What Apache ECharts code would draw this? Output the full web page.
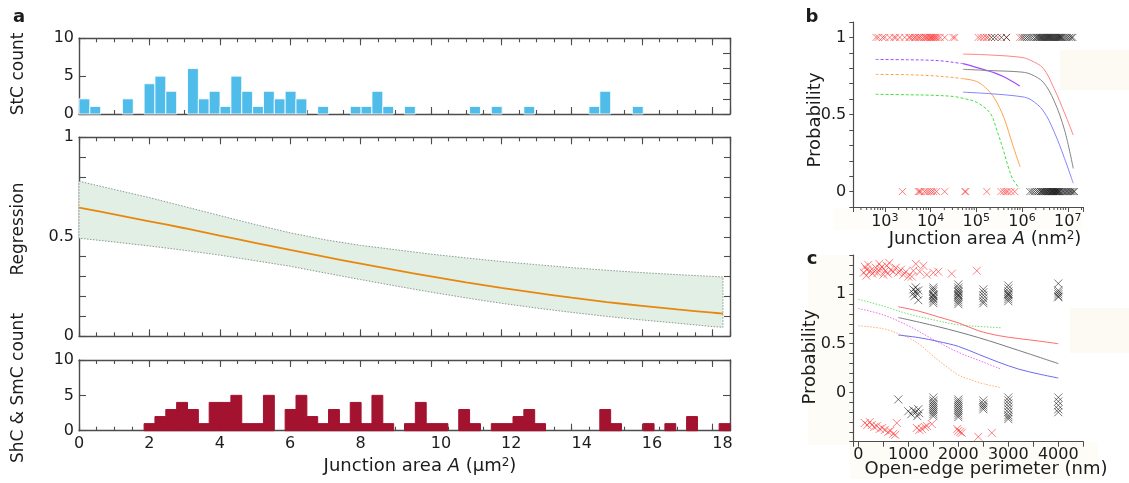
<!DOCTYPE html>
<html><head><meta charset="utf-8">
<script src="https://cdn.jsdelivr.net/npm/echarts@6/dist/echarts.min.js"></script>
<style>html,body{margin:0;padding:0;background:#fff}#chart{width:1129px;height:483px}</style>
</head><body><div id="chart"></div>
<script>
// ---------------- Panel a data ----------------
const AREA_MAX = 18.5;               // µm², histogram range (60 equal bins)
const stcCounts = [2,1,0,0,2,0,4,5,3,0, 6,2,3,1,5,3,1,3,2,3, 2,0,1,0,0,1,1,3,1,0, 1,0,0,0,0,0,1,0,1,0, 0,1,0,0,0,0,0,1,3,0, 0,1,0,0,0,0,0,0,0,0];
const shcCounts = [0,0,0,0,0,0,1,2,3,4, 3,1,4,4,5,1,1,5,0,3, 5,2,1,3,1,4,1,5,1,0, 1,4,1,1,0,3,1,0,1,1, 2,3,1,0,0,0,0,0,3,1, 0,0,1,0,1,0,2,0,0,1];
const regX     = [0,1,2,3,4,5,6,7,8,9,10,11,12,13,14,15,16,17,18,18.3];
const regMean  = [0.647,0.613,0.578,0.543,0.506,0.470,0.434,0.399,0.365,0.332,0.301,0.271,0.243,0.218,0.194,0.172,0.153,0.135,0.119,0.114];
const regUpper = [0.779,0.738,0.697,0.652,0.607,0.562,0.520,0.485,0.457,0.435,0.413,0.394,0.376,0.360,0.345,0.332,0.320,0.310,0.301,0.298];
const regLower = [0.493,0.474,0.454,0.432,0.408,0.380,0.352,0.318,0.285,0.253,0.222,0.193,0.166,0.142,0.120,0.100,0.082,0.066,0.049,0.045];
const aXTickLabels = [0,2,4,6,8,10,12,14,16,18];

// ---------------- Panel b data (junction area in nm²) ----------------
const bRedTop = [640,715,891,1000,1285,1585,1738,2123,2729,3388,3548,3981,4467,4786,5333,5754,6310,7079,7586,8128,8710,9333,10000,10470,11220,11750,12590,13180,14450,16220,20420,30900,33880,109600,125900,144500,166000,182000,295100,457100,891000];
const bBlackTop = [213800,251200,354800,457100,1000000,1120000,1260000,1410000,1580000,1780000,2000000,2120000,2240000,2380000,2510000,2630000,2750000,2880000,3020000,3160000,3310000,3470000,3630000,3800000,3980000,4170000,4370000,4570000,4790000,5010000,5250000,5500000,5750000,6030000,6310000,6610000,6920000,7240000,7590000,8320000,9120000,10000000,11000000,12000000,12900000];
const bRedBottom = [2421,5370,5754,6166,7413,8318,9333,10470,11750,13490,20420,56230,58880,169800,346700,398100,446700,489800,575400,691800];
const bBlackBottom = [1480000,1660000,1860000,2090000,2290000,2510000,2630000,2750000,2880000,3020000,3160000,3310000,3470000,3550000,3800000,3890000,4070000,4270000,4370000,4570000,4680000,4900000,5010000,5250000,5370000,5620000,5750000,6030000,6170000,6460000,6610000,7080000,7590000,8130000,8710000,9330000,10000000,10700000,11500000,12300000,13200000,14100000];
const bPurpleDashed = [[630,0.857],[3160,0.855],[10000,0.852],[20000,0.846],[31600,0.838],[51000,0.83]];
const bPurpleSolid  = [[51000,0.83],[100000,0.806],[158000,0.788],[250000,0.77],[400000,0.745],[630000,0.712],[890000,0.685]];
const bOrangeDashed = [[630,0.76],[3160,0.758],[10000,0.752],[31600,0.74],[51000,0.732]];
const bOrangeSolid  = [[51000,0.732],[100000,0.715],[158000,0.675],[250000,0.605],[400000,0.48],[630000,0.30],[910000,0.16]];
const bGreen  = [[630,0.631],[3160,0.628],[10000,0.625],[31600,0.617],[51000,0.605],[100000,0.58],[200000,0.51],[280000,0.40],[380000,0.28],[500000,0.16],[630000,0.08],[890000,0.02]];
const bRed    = [[51000,0.892],[200000,0.886],[1000000,0.87],[1580000,0.85],[2900000,0.80],[5000000,0.67],[8500000,0.51],[13200000,0.367]];
const bGray   = [[51000,0.793],[200000,0.785],[1000000,0.775],[1580000,0.76],[2900000,0.71],[5000000,0.59],[8500000,0.40],[13200000,0.15]];
const bBlue   = [[51000,0.645],[200000,0.635],[1000000,0.615],[1580000,0.595],[2900000,0.525],[5000000,0.39],[8500000,0.215],[13200000,0.054]];
const bDecades = [3,4,5,6,7];

// ---------------- Panel c data (open-edge perimeter in nm) ----------------
const cRedTop = [[130,1.28],[110,1.22],[170,1.25],[200,1.30],[240,1.24],[160,1.19],[280,1.21],[320,1.23],[350,1.27],[390,1.22],[420,1.31],[440,1.26],[470,1.28],[500,1.20],[540,1.24],[570,1.29],[590,1.21],[620,1.32],[650,1.25],[700,1.23],[750,1.27],[800,1.22],[850,1.25],[900,1.20],[950,1.23],[1000,1.18],[1070,1.18],[1100,1.24],[1150,1.31],[1230,1.23],[1300,1.29],[1370,1.20],[1500,1.22],[1600,1.23],[1870,1.21],[2370,1.24]];
const cRedBottom = [[130,-0.31],[180,-0.33],[230,-0.30],[270,-0.33],[320,-0.35],[370,-0.34],[430,-0.37],[480,-0.36],[530,-0.38],[600,-0.40],[640,-0.39],[700,-0.42],[740,-0.43],[770,-0.31],[1170,-0.36],[1220,-0.38],[1270,-0.37],[1330,-0.35],[1370,-0.34],[1470,-0.32],[1980,-0.37],[2000,-0.39],[2040,-0.40],[2070,-0.41],[2400,-0.45],[2670,-0.41]];
const cBlackTop = [[1100,1.05],[1100,1.01],[1120,0.98],[1150,1.07],[1150,1.03],[1180,1.0],[1200,1.04],[1200,0.94],
  [1500,1.07],[1500,1.05],[1500,1.03],[1500,1.0],[1500,0.99],[1500,0.98],[1500,0.96],[1500,0.95],[1500,0.93],[1500,0.91],
  [2000,1.10],[2000,1.07],[2000,1.05],[2000,1.03],[2000,1.02],[2000,1.0],[2000,0.99],[2000,0.98],[2000,0.96],[2000,0.94],[2000,0.92],[2000,0.90],
  [2500,1.05],[2500,1.02],[2500,0.99],[2500,0.96],[2500,0.93],[2500,0.91],
  [3000,1.09],[3000,1.06],[3000,1.03],[3000,1.01],[3000,1.0],[3000,0.99],[3000,0.97],[3000,0.95],[3000,0.93],
  [4000,1.11],[4000,1.04],[4000,1.02],[4000,1.0],[4000,0.98],[4000,0.97]];
const cBlackBottom = [[800,-0.07],[1000,-0.19],[1060,-0.22],[1100,-0.18],[1150,-0.2],[1180,-0.24],[1200,-0.17],[1220,-0.21],
  [1500,-0.05],[1500,-0.08],[1500,-0.1],[1500,-0.12],[1500,-0.14],[1500,-0.16],[1500,-0.18],[1500,-0.2],[1500,-0.22],[1500,-0.24],
  [2000,-0.07],[2000,-0.09],[2000,-0.11],[2000,-0.13],[2000,-0.15],[2000,-0.17],[2000,-0.19],[2000,-0.21],[2000,-0.23],[2000,-0.25],
  [2500,-0.08],[2500,-0.11],[2500,-0.13],[2500,-0.15],[2500,-0.17],
  [3000,-0.05],[3000,-0.08],[3000,-0.11],[3000,-0.14],[3000,-0.17],[3000,-0.2],[3000,-0.23],[3000,-0.25],[3000,-0.27],
  [4000,-0.05],[4000,-0.09],[4000,-0.13],[4000,-0.17],[4000,-0.2]];
const cGreen   = [[0,0.95],[500,0.88],[1000,0.80],[1500,0.74],[2000,0.69],[2500,0.67],[2850,0.66]];
const cMagenta = [[0,0.856],[500,0.79],[1000,0.68],[1500,0.54],[2000,0.41],[2500,0.31],[2850,0.24]];
const cOrange  = [[0,0.68],[500,0.65],[800,0.60],[1000,0.56],[1250,0.48],[1500,0.37],[1750,0.27],[2000,0.18],[2250,0.13],[2500,0.09],[2850,0.05]];
const cRed     = [[800,0.873],[1200,0.83],[1600,0.77],[2000,0.71],[2400,0.63],[2800,0.58],[3200,0.55],[3600,0.525],[4000,0.497]];
const cGray    = [[800,0.764],[1600,0.67],[2400,0.56],[3200,0.43],[4000,0.295]];
const cBlue    = [[800,0.585],[1200,0.56],[1600,0.52],[2000,0.47],[2400,0.39],[2800,0.31],[3200,0.24],[3600,0.19],[4000,0.148]];

// ---------------- styling / layout ----------------
const FONT = 'DejaVu Sans';
const AX = '#4d4d4d';
const TXT = '#1c1c1c';
const BIN_W = AREA_MAX / stcCounts.length;
const B_LOG_MIN = 2.31, B_LOG_MAX = 7.34;
const SUP = ['⁰','¹','²','³','⁴','⁵','⁶','⁷','⁸','⁹'];
const near = (a,b) => Math.abs(a-b) < 1e-6;
const fmtProb = v => near(v,0)?'0':near(v,0.5)?'0.5':near(v,1)?'1':'';

function aX(g, pos, major, showLabel) {
  return {
    type:'value', gridIndex:g, position:pos, min:0, max:AREA_MAX, interval: major?2:0.5,
    axisLine:{show:major, onZero:false, lineStyle:{color:AX, width:1.4}},
    axisTick:{show:true, inside:true, length: major?7:4, lineStyle:{color:AX, width:1.1}},
    axisLabel:{show:showLabel, margin:5, fontFamily:FONT, fontSize:16, color:TXT,
      formatter: v => {
        const hit = aXTickLabels.find(t => near(t, v));
        if (hit === undefined) return '';
        return hit >= 10 ? '{s|' + hit + '}' : String(hit);
      },
      rich:{s:{fontFamily:FONT, fontSize:16, color:TXT, padding:[0,0,0,20]}}},
    splitLine:{show:false}
  };
}
function aY(g, pos, max, interval, len, showLabel, fmt) {
  return {
    type:'value', gridIndex:g, position:pos, min:0, max:max, interval:interval,
    axisLine:{show:true, onZero:false, lineStyle:{color:AX, width:1.4}},
    axisTick:{show:true, inside:true, length:len, lineStyle:{color:AX, width:1.1}},
    axisLabel:{show:showLabel, margin:5, fontFamily:FONT, fontSize:16, color:TXT, formatter:fmt},
    splitLine:{show:false}
  };
}
function histSeries(xi, yi, counts, color, stroke) {
  return {
    type:'custom', xAxisIndex:xi, yAxisIndex:yi, silent:true, animation:false, z:3,
    data: counts.map((c,i) => [i, c]).filter(d => d[1] > 0),
    renderItem: (params, api) => {
      const i = api.value(0), c = api.value(1);
      const p0 = api.coord([i*BIN_W, c]);
      const p1 = api.coord([(i+1)*BIN_W, 0]);
      return {type:'rect', shape:{x:p0[0], y:p0[1], width:p1[0]-p0[0], height:p1[1]-p0[1]},
        style:{fill:color, stroke:stroke, lineWidth:1}};
    }
  };
}
function cross(xi, yi, data, color, size) {
  return {type:'scatter', xAxisIndex:xi, yAxisIndex:yi, data:data, silent:true, animation:false, z:3,
    symbol:'path://M0,0L10,10M10,0L0,10', symbolSize:size,
    itemStyle:{color:'rgba(0,0,0,0)', borderColor:color, borderWidth:0.9}};
}
function line(xi, yi, data, color, type, width) {
  return {type:'line', xAxisIndex:xi, yAxisIndex:yi, data:data, showSymbol:false, symbol:'none',
    smooth:0.35, silent:true, animation:false, z:4,
    lineStyle:{color:color, width:width||1, type:type||'solid'}};
}
const logPts = arr => arr.map(d => [Math.log10(d[0]), d[1]]);
const logAt = (arr, y) => arr.map(a => [Math.log10(a), y]);

const bMinor = [];
for (let n = 2; n <= 7; n++) for (let k = 2; k <= 9; k++) {
  const v = n + Math.log10(k);
  if (v > B_LOG_MIN && v < B_LOG_MAX) bMinor.push([v, -0.1]);
}

const grids = [
  {left:79, top:38.3, width:651, height:75.7},
  {left:79, top:137.3, width:651, height:199},
  {left:79, top:360, width:651, height:70.7},
  {left:853.3, top:22, width:230, height:185},
  {left:853.3, top:255, width:230, height:186.7}
].map(g => Object.assign(g, {containLabel:false, outerBoundsMode:'none'}));

const xAxes = [];
for (let g = 0; g < 3; g++) {
  xAxes.push(aX(g,'bottom',true, g===2), aX(g,'bottom',false,false), aX(g,'top',true,false), aX(g,'top',false,false));
}
xAxes.push({ // b: log10(area)
  type:'value', gridIndex:3, position:'bottom', min:B_LOG_MIN, max:B_LOG_MAX, minInterval:1, maxInterval:1, splitNumber:5,
  axisLine:{onZero:false, lineStyle:{color:AX, width:1.2}},
  axisTick:{inside:false, length:5, lineStyle:{color:AX, width:1}},
  axisLabel:{margin:6, fontFamily:FONT, fontSize:16, color:TXT,
    formatter: v => { const n = Math.round(v); return (near(v,n) && bDecades.includes(n)) ? '10{s|' + n + '}' : ''; },
    rich:{s:{fontFamily:FONT, fontSize:11, color:TXT, verticalAlign:'top', padding:[0,0,6,0]}}},
  splitLine:{show:false}
});
xAxes.push({ // c
  type:'value', gridIndex:4, position:'bottom', min:-100, max:4500, minInterval:500, maxInterval:500, splitNumber:9,
  axisLine:{onZero:false, lineStyle:{color:AX, width:1.2}},
  axisTick:{inside:false, length:5, lineStyle:{color:AX, width:1}},
  axisLabel:{margin:5, fontFamily:FONT, fontSize:16, color:TXT,
    formatter: v => (v >= 0 && near(v % 1000, 0)) ? String(v) : ''},
  splitLine:{show:false}
});

const yAxes = [
  aY(0,'left',10,5,7,true,null), aY(0,'right',10,2,7,false,null),
  aY(1,'left',1,0.1,7,true,fmtProb), aY(1,'right',1,0.1,6,false,null),
  aY(2,'left',10,5,7,true,null), aY(2,'right',10,5,7,false,null),
  {type:'value', gridIndex:3, min:-0.1, max:1.1, interval:0.1,
   axisLine:{show:true,onZero:false,lineStyle:{color:AX,width:1.2}},
   axisTick:{show:true,inside:false,length:4,lineStyle:{color:AX,width:1}},
   axisLabel:{margin:7,fontFamily:FONT,fontSize:16,color:TXT,formatter:fmtProb}, splitLine:{show:false}},
  {type:'value', gridIndex:4, min:-0.5, max:1.4, interval:0.1,
   axisLine:{show:true,onZero:false,lineStyle:{color:AX,width:1.2}},
   axisTick:{show:true,inside:false,length:4,lineStyle:{color:AX,width:1}},
   axisLabel:{margin:7,fontFamily:FONT,fontSize:16,color:TXT,formatter:fmtProb}, splitLine:{show:false}}
];

const RED = 'rgba(255,35,35,0.8)', BLK = 'rgba(10,10,10,0.78)';
const series = [
  histSeries(0, 0, stcCounts, '#4fbce9', 'rgba(255,255,255,0.85)'),
  { // regression confidence band
    type:'custom', xAxisIndex:4, yAxisIndex:2, silent:true, animation:false, z:2, data:[0],
    renderItem: (params, api) => {
      const pts = regX.map((x,i) => api.coord([x, regUpper[i]]));
      for (let i = regX.length - 1; i >= 0; i--) pts.push(api.coord([regX[i], regLower[i]]));
      return {type:'polygon', shape:{points:pts},
        style:{fill:'#e1efe5', stroke:'#7f8e86', lineWidth:0.9, lineDash:[1.5,1.5]}};
    }
  },
  line(4, 2, regX.map((x,i) => [x, regMean[i]]), '#e8870e', 'solid', 1.8),
  histSeries(8, 4, shcCounts, '#a3122f', '#a3122f'),
  // panel b
  {type:'custom', xAxisIndex:12, yAxisIndex:6, clip:false, silent:true, animation:false, data:bMinor,
   renderItem: (params, api) => { const c = api.coord([api.value(0), api.value(1)]);
     return {type:'line', shape:{x1:c[0], y1:c[1], x2:c[0], y2:c[1]+3}, style:{stroke:AX, lineWidth:1}}; }},
  cross(12, 6, logAt(bRedTop, 1), RED, 7),
  cross(12, 6, logAt(bBlackTop, 1), BLK, 7),
  cross(12, 6, logAt(bRedBottom, 0), RED, 7),
  cross(12, 6, logAt(bBlackBottom, 0), BLK, 7),
  line(12, 6, logPts(bPurpleDashed), '#a24cff', [3,2], 1),
  line(12, 6, logPts(bPurpleSolid), '#a24cff', 'solid', 1.2),
  line(12, 6, logPts(bOrangeDashed), '#ffa24a', [3,2], 1),
  line(12, 6, logPts(bOrangeSolid), '#ffa24a', 'solid', 1),
  line(12, 6, logPts(bGreen), '#3fe03f', [3,2], 1),
  line(12, 6, logPts(bRed), '#ff8585', 'solid', 1),
  line(12, 6, logPts(bGray), '#858585', 'solid', 1),
  line(12, 6, logPts(bBlue), '#8585ff', 'solid', 1),
  // panel c
  cross(13, 7, cRedTop, RED, 8),
  cross(13, 7, cRedBottom, RED, 8),
  cross(13, 7, cBlackTop, BLK, 8),
  cross(13, 7, cBlackBottom, BLK, 8),
  line(13, 7, cGreen, '#6ee06e', [1.5,1.5], 1),
  line(13, 7, cMagenta, '#ee6bee', [1.5,1.5], 1),
  line(13, 7, cOrange, '#ffae6e', [1.5,1.5], 1),
  line(13, 7, cRed, '#ff6a6a', 'solid', 1),
  line(13, 7, cGray, '#7a7a7a', 'solid', 1),
  line(13, 7, cBlue, '#6b6bf2', 'solid', 1)
];

const tx = (x, y, text, size, opts) => Object.assign({type:'text', x:x, y:y, silent:true,
  style:{text:text, fill:TXT, fontFamily:FONT, fontSize:size, align:'center', verticalAlign:'middle'}}, opts || {});
const bold = (x, y, t) => ({type:'text', x:x, y:y, silent:true,
  style:{text:t, fill:TXT, fontFamily:FONT, fontSize:18, fontWeight:'bold', align:'center', verticalAlign:'middle'}});
const rich = size => ({
  n:{fill:TXT, fontFamily:FONT, fontSize:size},
  i:{fill:TXT, fontFamily:FONT, fontSize:size, fontStyle:'italic'},
  s:{fill:TXT, fontFamily:FONT, fontSize:12, verticalAlign:'top', padding:[0,0,7,0]}
});
const cream = (x, y, w, h, c) => ({type:'rect', z:-10, silent:true, shape:{x:x, y:y, width:w, height:h}, style:{fill:c}});

const graphic = [
  cream(808, 255, 45, 190, '#fdfcf7'),
  cream(850, 442, 248, 37, '#fdfcf7'),
  cream(833, 208, 250, 22, '#fefdfa'),
  cream(1060, 50, 69, 40, '#fcfaf2'),
  cream(1070, 308, 59, 45, '#fcfaf2'),
  bold(19, 17, 'a'), bold(812, 17, 'b'), bold(812, 259, 'c'),
  tx(19, 74, 'StC count', 17, {rotation:Math.PI/2}),
  tx(19, 229, 'Regression', 17, {rotation:Math.PI/2}),
  tx(19, 388, 'ShC & SmC count', 17, {rotation:Math.PI/2}),
  tx(815, 120, 'Probability', 18, {rotation:Math.PI/2}),
  tx(810, 357, 'Probability', 18, {rotation:Math.PI/2}),
  {type:'text', x:420, y:466, silent:true, style:{text:'{n|Junction area }{i|A}{n| (µm}{s|2}{n|)}', align:'center', verticalAlign:'middle', rich:rich(18)}},
  {type:'text', x:985, y:239, silent:true, style:{text:'{n|Junction area }{i|A}{n| (nm}{s|2}{n|)}', align:'center', verticalAlign:'middle', rich:rich(18)}},
  tx(986, 469, 'Open-edge perimeter (nm)', 18)
];

const chart = echarts.init(document.getElementById('chart'), null, {renderer:'canvas'});
chart.setOption({
  animation:false, backgroundColor:'#ffffff',
  grid:grids, xAxis:xAxes, yAxis:yAxes, series:series, graphic:graphic
});
</script>
</body></html>
